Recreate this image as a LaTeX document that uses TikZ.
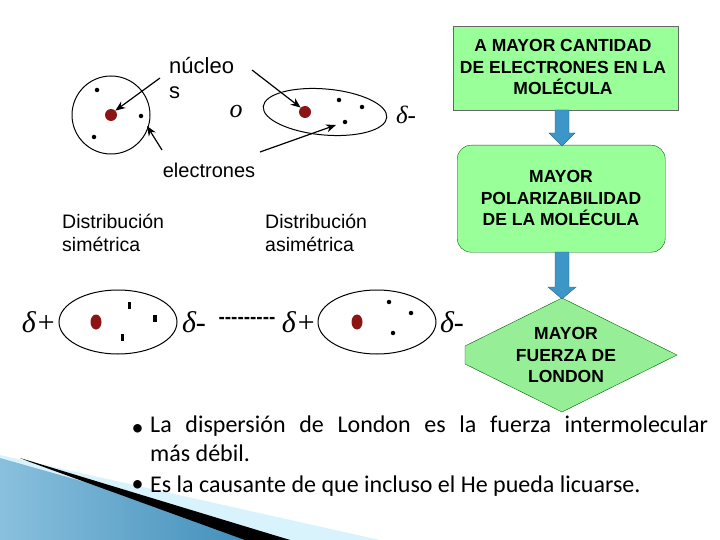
\documentclass[tikz,border=0pt]{standalone}
\usepackage{fontspec}
\setmainfont{Liberation Sans}
\newfontfamily\serf{Liberation Serif}
\newfontfamily\calfont{Carlito}
\usetikzlibrary{arrows.meta,shapes.geometric}
\definecolor{nuc}{RGB}{140,20,20}
\definecolor{gbox}{RGB}{153,255,153}
\definecolor{gdia}{RGB}{150,238,150}
\definecolor{barrow}{RGB}{60,150,200}
\begin{document}
\begin{tikzpicture}[x=1pt,y=-1pt,
  txt/.style={font=\fontsize{22}{24}\selectfont,inner sep=0,anchor=west,align=left},
  small/.style={font=\fontsize{19.5}{23}\selectfont,inner sep=0,anchor=north west,align=left},
  dl/.style={font=\serf\itshape\fontsize{30}{30}\selectfont,inner sep=0},
  bx/.style={font=\bfseries\fontsize{17.5}{21.5}\selectfont,align=center},
  ptr/.style={line width=1.2pt,-{Stealth[length=10pt,width=8pt]}},
  dot/.style={fill=black,minimum size=4.5pt,inner sep=0,circle},
  bul/.style={font=\calfont\fontsize{24}{29}\selectfont},
  down/.style={fill=barrow,draw=barrow!70!black,line width=0.4pt}]
\useasboundingbox (0,0) rectangle (720,540);
% swoosh
\fill[cyan!15!white] (0,455) -- (380,540) -- (0,540) -- cycle;
\shade[left color=barrow!60!white,right color=barrow!90!black] (0,458) -- (290,540) -- (0,540) -- cycle;
\fill[black] (20,458) -- (290,540) -- (245,540) -- (30,462) -- cycle;
% molecule 1
\draw[line width=1pt] (111,115) circle (39);
\node[circle,fill=nuc,minimum size=12pt,inner sep=0] (n1) at (111,115) {};
\node[dot] (e1) at (97,90) {}; \node[dot] (e2) at (141,116) {}; \node[dot] (e3) at (94,137) {};
\node[txt] (nuc) at (169,66) {núcleo};
\node[txt] (s) at (169,93) {s};
\node[font=\serf\itshape\fontsize{26}{26}\selectfont] (o) at (236,112) {o};
\node[txt,anchor=center,font=\fontsize{20}{22}\selectfont] (el) at (209,170) {electrones};
% molecule 2
\draw[line width=1pt,rotate around={-5:(325,112)}] (325,112) ellipse (62 and 23);
\node[circle,fill=nuc,minimum size=12pt,inner sep=0] (n2) at (305,112) {};
\node[dot] (f1) at (339,100) {}; \node[dot] (f2) at (362,107) {}; \node[dot] (f3) at (345,122) {};
\node[dl,font=\serf\itshape\fontsize{25}{25}\selectfont] (dm0) at (406,115) {δ-};
\coordinate (a1) at (160,78); \coordinate (a2) at (162,150);
\coordinate (a3) at (252,70); \coordinate (a4) at (260,152);
\draw[ptr] (a1) -- (n1.north east);
\draw[ptr] (a2) -- (147,126);
\draw[ptr] (a3) -- (n2.north west);
\draw[ptr] (a4) -- (336,125);
\node[small] (ds) at (62,214) {Distribución\\simétrica};
\node[small] (da) at (265,214) {Distribución\\asimétrica};
% row 3
\draw[line width=1pt] (118,322) ellipse (59 and 32);
\draw[line width=1pt] (377,322) ellipse (59 and 32);
\node[ellipse,fill=nuc,minimum width=11pt,minimum height=15pt,inner sep=0] at (96,322) {};
\node[ellipse,fill=nuc,minimum width=11pt,minimum height=15pt,inner sep=0] at (357,322) {};
\fill (128,302) rectangle +(3,7); \fill (153,315) rectangle +(3.5,7); \fill (121,334) rectangle +(3,7);
\node[dot] at (389,302) {}; \node[dot] at (411,313) {}; \node[dot] at (393,333) {};
\node[dl] (p1) at (39,322) {δ+};
\node[dl] (m1) at (194,322) {δ-};
\node[font=\bfseries\fontsize{19}{19}\selectfont] (dash) at (247,320) {-{}-{}-{}-{}-{}-{}-{}-{}-};
\node[dl] (p2) at (299,322) {δ+};
\node[dl] (m2) at (452,322) {δ-};
% flow
\node[draw=black!60,fill=gbox,minimum width=225pt,minimum height=84pt,anchor=north west,inner sep=0] (b1) at (453,26) {};
\node[bx,anchor=north] at (563,36) {A MAYOR CANTIDAD\\DE ELECTRONES EN LA\\MOLÉCULA};
\node[draw=green!40!black,fill=gbox,rounded corners=14pt,minimum width=208pt,minimum height=107pt,anchor=north west,inner sep=0] (b2) at (457,145) {};
\node[bx,anchor=north] at (561,167) {MAYOR\\POLARIZABILIDAD\\DE LA MOLÉCULA};
\fill[gdia,draw=green!40!black,line width=0.4pt] (562,298) -- (677,355) -- (562,412) -- (465,364) -- (465,346) -- cycle;
\node[bx] (b3) at (566,355) {MAYOR\\FUERZA DE\\LONDON};
\draw[down] (555,110) -- (569,110) -- (569,133) -- (575,133) -- (562,146) -- (549,133) -- (555,133) -- cycle;
\draw[down] (555,252) -- (569,252) -- (569,287) -- (576,287) -- (562,299) -- (548,287) -- (555,287) -- cycle;
% bullets
\node[bul,anchor=west] at (128,430) {•};
\node[bul,anchor=west] at (128,486) {•};
\node[bul,anchor=north west,text width=558pt,align=justify,inner sep=0] (t1) at (150,416) {La dispersión de London es la fuerza intermolecular\linebreak más débil.};
\node[bul,anchor=west,inner sep=0] (t2) at (150,486) {Es la causante de que incluso el He pueda licuarse.};
\end{tikzpicture}
\end{document}
